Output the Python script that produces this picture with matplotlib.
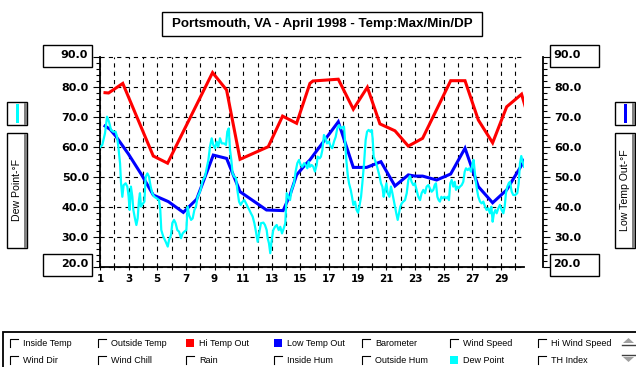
import matplotlib.pyplot as plt
from matplotlib.patches import Rectangle, Polygon
from matplotlib.lines import Line2D
from matplotlib.ticker import MultipleLocator

plt.rcParams['lines.scale_dashes'] = False

# Hi Temp Out (daily maximum), x = day of April
hi_day = [1.35, 1.60, 2.59, 4.72, 5.72, 8.86, 9.84, 10.78, 12.75, 13.75, 14.73, 15.66, 15.87,
          17.64, 18.69, 19.67, 20.55, 21.60, 22.53, 23.53, 25.49, 26.49, 27.42, 28.42, 29.40,
          30.44, 30.68]
hi_temp = [78.1, 78.0, 81.2, 57.0, 54.6, 84.8, 79.0, 55.9, 60.1, 70.3, 67.9, 81.2, 82.0,
           82.6, 72.6, 79.9, 67.7, 65.4, 60.3, 62.9, 82.1, 82.1, 69.0, 61.4, 73.4,
           77.6, 73.7]

# Low Temp Out (daily minimum)
lo_day = [1.35, 1.70, 2.09, 2.98, 3.91, 4.72, 5.77, 6.82, 7.75, 8.91, 9.84, 10.78, 12.63,
          13.79, 14.27, 14.73, 15.32, 15.66, 17.64, 18.69, 19.62, 20.62, 21.60, 22.53, 23.00,
          23.53, 24.51, 25.49, 26.49, 27.42, 28.42, 29.40, 30.45, 30.68]
lo_temp = [67.0, 65.9, 63.7, 57.7, 50.7, 44.0, 41.8, 38.2, 42.6, 57.3, 56.2, 45.1, 39.0,
           38.8, 44.0, 50.7, 54.0, 55.7, 68.4, 53.2, 53.2, 55.1, 47.0, 50.7, 50.3,
           50.3, 49.0, 51.0, 59.6, 46.8, 41.4, 45.7, 54.0, 55.9]

# Dew Point (sampled readings)
dp_day = [1.00, 1.16, 1.35, 1.49, 1.63, 1.77, 1.93, 2.09, 2.19, 2.28, 2.40, 2.47, 2.56, 2.65,
          2.79, 2.91, 3.00, 3.07, 3.16, 3.26, 3.33, 3.44, 3.54, 3.63, 3.72, 3.79, 3.86, 3.98,
          4.10, 4.19, 4.31, 4.42, 4.54, 4.65, 4.79, 4.96, 5.12, 5.21, 5.28, 5.42, 5.59, 5.73,
          5.82, 5.96, 6.05, 6.17, 6.28, 6.40, 6.52, 6.66, 6.77, 6.89, 7.03, 7.12, 7.22, 7.36,
          7.47, 7.59, 7.70, 7.82, 7.94, 8.05, 8.15, 8.26, 8.33,
          8.45, 8.57, 8.68, 8.80, 8.91, 9.03, 9.15, 9.26, 9.38, 9.50, 9.66, 9.80, 9.89, 9.99,
          10.08, 10.17, 10.26, 10.38, 10.50, 10.59, 10.71, 10.82, 10.96, 11.08, 11.20, 11.31,
          11.43, 11.54, 11.66, 11.78, 11.89, 12.01, 12.13, 12.24, 12.41, 12.52, 12.64, 12.71,
          12.80, 12.89, 12.99, 13.10, 13.22, 13.34, 13.48, 13.59, 13.71, 13.83, 13.94, 14.04,
          14.15, 14.27, 14.38, 14.55, 14.66, 14.78, 14.90, 15.01, 15.13, 15.25, 15.36, 15.48,
          15.57, 15.66,
          15.78, 15.90, 16.01, 16.13, 16.20, 16.34, 16.43, 16.53, 16.64, 16.76, 16.85, 16.99,
          17.11, 17.22, 17.34, 17.46, 17.57, 17.69, 17.81, 17.92, 18.04, 18.11, 18.20, 18.30,
          18.39, 18.51, 18.60, 18.69, 18.81, 18.92, 19.02, 19.11, 19.23, 19.32, 19.44, 19.55,
          19.65, 19.76, 19.88, 19.97, 20.04, 20.11, 20.20, 20.32, 20.44, 20.53, 20.62, 20.72,
          20.81, 20.90, 21.00, 21.09, 21.21, 21.32, 21.42, 21.51, 21.60, 21.69, 21.79, 21.88,
          21.97, 22.07, 22.18, 22.30, 22.42, 22.53, 22.65,
          22.76, 22.88, 22.99, 23.11, 23.23, 23.35, 23.46, 23.58, 23.70, 23.81, 23.93, 24.04,
          24.16, 24.28, 24.37, 24.46, 24.56, 24.65, 24.74, 24.84, 24.93, 25.05, 25.16, 25.28,
          25.37, 25.46, 25.56, 25.67, 25.77, 25.86, 25.95, 26.05, 26.14, 26.26, 26.37, 26.47,
          26.56, 26.68, 26.79, 26.91, 27.02, 27.09, 27.16, 27.23, 27.33, 27.42, 27.54, 27.65,
          27.77, 27.89, 28.00, 28.12, 28.23, 28.33, 28.42, 28.51, 28.61, 28.70, 28.82, 28.93,
          29.05, 29.17, 29.26, 29.35, 29.45, 29.54, 29.63, 29.75, 29.86, 30.00, 30.14, 30.24,
          30.33, 30.42, 30.52, 30.61]
dp_temp = [59.9, 60.7, 64.6, 70.1, 68.4, 65.7, 65.1, 65.1, 63.4, 60.1, 54.6, 47.9, 43.4, 47.3,
           47.9, 46.8, 43.4, 39.0, 46.8, 43.4, 39.0, 36.2, 34.0, 36.2, 42.3, 44.6, 40.1, 41.0,
           41.8, 50.1, 51.2, 50.1, 46.8, 44.6, 43.4, 42.9, 42.3, 39.0, 32.3, 30.1, 28.4, 26.8,
           29.0, 30.7, 34.6, 35.7, 34.6, 32.3, 31.8, 29.6, 31.2, 31.8, 32.3, 40.1, 37.3, 35.7,
           36.2, 39.0, 40.1, 43.4, 44.6, 46.2, 48.4, 49.6, 50.1,
           52.9, 55.7, 60.1, 62.9, 60.7, 59.6, 61.8, 60.1, 62.9, 61.2, 61.2, 60.7, 65.1, 66.2,
           59.0, 55.7, 51.2, 50.1, 49.6, 45.7, 41.8, 40.7, 41.8, 42.3, 41.2, 40.1,
           39.0, 37.9, 36.8, 34.6, 31.8, 28.4, 31.8, 34.6, 34.8, 34.0, 32.3, 29.6,
           27.9, 24.6, 29.0, 32.3, 33.4, 34.0, 32.3, 33.4, 31.2, 32.9, 34.6, 44.6,
           43.4, 42.3, 45.7, 47.9, 51.8, 54.6, 55.7, 54.0, 53.4, 54.6, 54.0, 52.9,
           55.1, 53.4,
           54.0, 53.4, 51.8, 54.0, 56.8, 56.2, 56.8, 59.0, 64.0, 62.9, 61.2, 61.8,
           60.1, 59.6, 61.8, 63.4, 66.2, 67.3, 66.2, 66.5, 66.8, 62.3, 55.7, 50.7,
           47.9, 45.7, 43.4, 40.7, 41.8, 39.0, 38.1, 40.1, 43.4, 47.9, 54.6, 62.3,
           65.1, 65.7, 65.1, 65.7, 62.9, 56.8, 55.7, 54.0, 51.8, 50.1, 47.9, 46.8,
           43.4, 45.7, 47.9, 44.6, 43.4, 46.8, 44.6, 42.3, 40.1, 37.9, 35.7, 37.9,
           40.1, 41.2, 41.8, 42.3, 44.6, 49.0, 50.3,
           48.4, 47.3, 47.9, 45.7, 43.4, 42.3, 44.6, 45.7, 44.6, 46.8, 47.3, 46.2,
           45.1, 45.7, 47.3, 47.9, 43.4, 42.3, 41.8, 43.4, 42.9, 43.4, 42.9, 43.4,
           42.3, 47.9, 49.0, 46.8, 48.4, 45.7, 46.8, 46.2, 46.8, 47.3, 48.4, 51.8,
           52.9, 52.3, 52.9, 51.8, 54.6, 55.7, 52.3, 49.0, 45.7, 43.4, 41.8, 41.2,
           41.8, 40.1, 39.0, 39.6, 37.9, 40.1, 35.1, 37.9, 39.0, 37.9, 39.6, 40.7,
           39.0, 37.9, 40.1, 44.6, 46.8, 47.9, 48.4, 45.1, 44.0, 44.0, 44.6, 47.9,
           54.6, 57.0, 55.1, 53.4]

days = list(range(1, 31))
x_end = 30.61
temp_ticks = [20, 30, 40, 50, 60, 70, 80, 90]
title = 'Portsmouth, VA - April 1998 - Temp:Max/Min/DP'
left_label = 'Dew Point-°F'
right_label = 'Low Temp Out-°F'
legend_row1 = ['Inside Temp', 'Outside Temp', 'Hi Temp Out', 'Low Temp Out', 'Barometer',
               'Wind Speed', 'Hi Wind Speed']
legend_row2 = ['Wind Dir', 'Wind Chill', 'Rain', 'Inside Hum', 'Outside Hum', 'Dew Point',
               'TH Index']
checked = {'Hi Temp Out': '#ff0000', 'Low Temp Out': '#0000ff', 'Dew Point': '#00ffff'}

W, H = 636, 367
fig = plt.figure(figsize=(W / 100, H / 100), dpi=100)
fig.patch.set_facecolor('white')

# main plot area
ax = fig.add_axes([100 / W, (H - 267) / H, 424 / W, 210 / H])
ax.plot(hi_day, hi_temp, color='#ff0000', lw=2.2, solid_joinstyle='miter', zorder=3)
ax.plot(lo_day, lo_temp, color='#0000ff', lw=2.2, solid_joinstyle='miter', zorder=3)
ax.plot(dp_day, dp_temp, color='#00ffff', lw=1.6, zorder=4)
ax.set_xlim(1, x_end)
ax.set_ylim(20, 90)
ax.set_xticks(days)
ax.set_xticklabels([str(d) if d % 2 == 1 else '' for d in days])
ax.set_yticks(temp_ticks)
ax.set_yticklabels([''] + ['%.1f' % t for t in temp_ticks[1:-1]] + [''])
ax.yaxis.set_minor_locator(MultipleLocator(2))
ax.grid(True, color='black', lw=0.8, linestyle=(0, (3, 3)))
for gl in ax.get_ygridlines() + ax.get_xgridlines():
    gl.set_clip_on(False)
for s in ['top', 'right']:
    ax.spines[s].set_visible(False)
for s in ['left', 'bottom']:
    ax.spines[s].set_linewidth(1.3)
ax.tick_params(axis='x', direction='inout', length=4.5, width=0.8, pad=3,
               labelsize=7.5)
ax.tick_params(axis='y', which='major', direction='out', length=5, width=0.8, pad=3,
               labelsize=8)
ax.tick_params(axis='y', which='minor', direction='out', length=3, width=0.8)
for lab in ax.get_xticklabels() + ax.get_yticklabels():
    lab.set_fontweight('bold')

# right-hand temperature axis
ax2 = ax.twinx()
ax2.set_ylim(20, 90)
ax2.set_yticks(temp_ticks)
ax2.set_yticklabels([''] + ['%.1f' % t for t in temp_ticks[1:-1]] + [''])
ax2.yaxis.set_minor_locator(MultipleLocator(2))
for s in ['top', 'left', 'bottom']:
    ax2.spines[s].set_visible(False)
ax2.spines['right'].set_position(('outward', 19 * 0.72))
ax2.spines['right'].set_linewidth(1.3)
ax2.tick_params(axis='y', which='major', direction='out', length=5, width=0.8, pad=3,
                labelsize=8)
ax2.tick_params(axis='y', which='minor', direction='out', length=3, width=0.8)
for lab in ax2.get_yticklabels():
    lab.set_fontweight('bold')

# overlay in pixel units for boxes and the legend panel
ov = fig.add_axes([0, 0, 1, 1])
ov.set_xlim(0, W)
ov.set_ylim(H, 0)
ov.axis('off')

ov.add_patch(Rectangle((162, 12), 320, 24, fc='white', ec='black', lw=1.0))
ov.text(322, 24.5, title, ha='center', va='center', fontsize=9.6,
        fontweight='bold', family='Liberation Sans')

# boxed end labels of the two temperature axes
for bx, tx, ha in [(43, 88, 'right'), (550, 553, 'left')]:
    for by, val in [(45, temp_ticks[-1]), (254, temp_ticks[0])]:
        ov.add_patch(Rectangle((bx, by), 49, 22, fc='white', ec='black', lw=1.0))
        ov.text(tx, by + 10, '%.1f' % val, ha=ha, va='center', fontsize=8,
                fontweight='bold')

# side series selectors
for sx, col, lab in [(7, '#00ffff', left_label), (615, '#0000ff', right_label)]:
    ov.add_patch(Rectangle((sx, 102), 20, 23, fc='white', ec='black', lw=1.0))
    ov.add_patch(Rectangle((sx + 17, 102.5), 3, 22, fc='#808080', ec='none'))
    ov.add_patch(Rectangle((sx + 9, 104), 3, 19, fc=col, ec='none'))
    ov.add_patch(Rectangle((sx, 133), 20, 115, fc='white', ec='black', lw=1.0))
    ov.add_patch(Rectangle((sx + 17, 133.5), 3, 114, fc='#808080', ec='none'))
    ov.text(sx + 9.5, 190, lab, rotation=90, ha='center', va='center', fontsize=7.6,
            family='Liberation Sans')

# legend panel
ov.add_patch(Rectangle((3, 332), 640, 40, fc='white', ec='black', lw=1.3, clip_on=False))
for row, ry in [(legend_row1, 339), (legend_row2, 356)]:
    for i, name in enumerate(row):
        cx = 10 + 88 * i
        if name in checked:
            ov.add_patch(Rectangle((cx, ry), 8, 8, fc=checked[name], ec='none'))
        else:
            ov.add_line(Line2D([cx, cx, cx + 8], [ry + 8, ry, ry], color='black', lw=0.8))
        ov.text(cx + 13, ry + 4.5, name, ha='left', va='center', fontsize=6.5,
                family='Liberation Sans')

# scroll arrows
ov.add_patch(Polygon([[623, 343], [634, 343], [628.5, 338]], fc='#a0a0a0', ec='none'))
ov.add_line(Line2D([622, 635], [345, 345], color='#404040', lw=1.0))
ov.add_patch(Polygon([[623, 357], [634, 357], [628.5, 362]], fc='#a0a0a0', ec='none'))
ov.add_line(Line2D([622, 635], [355, 355], color='#404040', lw=1.0))

fig.savefig('out.png', dpi=100)
